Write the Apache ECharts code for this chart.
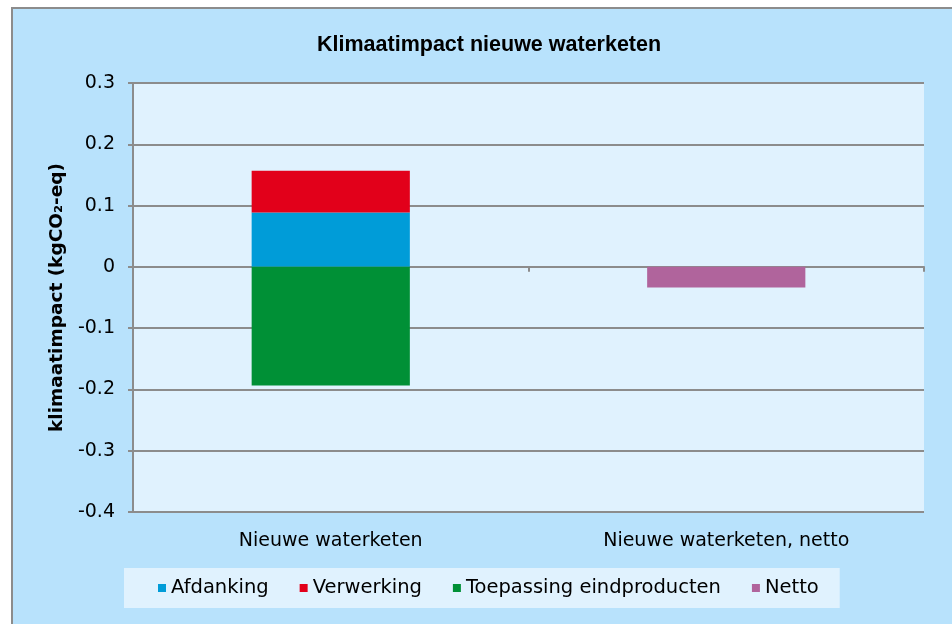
<!DOCTYPE html>
<html>
<head>
<meta charset="utf-8">
<script src="https://cdn.jsdelivr.net/npm/echarts@6/dist/echarts.min.js"></script>
<style>
  html, body { margin: 0; padding: 0; background: #ffffff; overflow: hidden; }
  #frame {
    position: absolute; left: 11px; top: 7px; width: 960px; height: 640px;
    background: #b8e2fc; border-left: 2px solid #8c8c8c; border-top: 2px solid #8c8c8c;
  }
  #main { position: absolute; left: 0; top: 0; width: 952px; height: 624px; }
</style>
</head>
<body>
<div id="frame"></div>
<div id="main"></div>
<script>
 // categorieën en waarden (kg CO2-eq)
 var categories = ['Nieuwe waterketen', 'Nieuwe waterketen, netto'];
 var afdanking = [0.0886, '-'];
 var verwerking = [0.0684, '-'];
 var toepassing = [-0.1935, '-'];
 var netto = ['-', -0.0337];
 var yTicks = { min: -0.4, max: 0.3, interval: 0.1 };

 var chart = echarts.init(document.getElementById('main'));

 var labelFont = 'DejaVu Sans';

 function barSerie(name, data, color) {
     return {
         name: name,
         type: 'bar',
         stack: 'totaal',
         barWidth: '40%',
         data: data,
         itemStyle: { color: color }
     };
 }

 var option = {
     backgroundColor: 'transparent',
     title: {
         text: 'Klimaatimpact nieuwe waterketen',
         left: 312,
         top: 29,
         textStyle: { fontFamily: 'Liberation Sans', fontWeight: 'bold', fontSize: 21.5, color: '#000' }
     },
     legend: {
         left: 124,
         top: 568,
         padding: [10, 21, 10, 34],
         itemGap: 31,
         itemWidth: 8,
         itemHeight: 8,
         icon: 'rect',
         backgroundColor: '#e0f2fe',
         textStyle: { fontFamily: labelFont, fontSize: 19.5, color: '#000' },
         data: ['Afdanking', 'Verwerking', 'Toepassing eindproducten', 'Netto']
     },
     grid: {
         left: 133, right: 28, top: 83, bottom: 112,
         show: true,
         backgroundColor: '#e0f2fe',
         borderWidth: 0
     },
     xAxis: [
         {
             type: 'category',
             data: categories,
             position: 'bottom',
             axisLine: { show: false, onZero: false },
             axisTick: { show: false },
             axisLabel: { margin: 20, fontFamily: labelFont, fontSize: 19, color: '#000' }
         },
         {
             // as op nul met streepjes tussen de categorieën
             type: 'category',
             data: categories,
             position: 'top',
             axisLine: { onZero: true, lineStyle: { color: '#8c8c8c', width: 2 } },
             axisTick: { show: true, inside: true, length: 5, lineStyle: { color: '#8c8c8c', width: 2 } },
             axisLabel: { show: false }
         }
     ],
     yAxis: {
         type: 'value',
         min: yTicks.min,
         max: yTicks.max,
         interval: yTicks.interval,
         name: 'klimaatimpact (kgCO₂-eq)',
         nameLocation: 'middle',
         nameGap: 63,
         nameTextStyle: { fontFamily: labelFont, fontWeight: 'bold', fontSize: 18.5, color: '#000' },
         axisLine: { show: true, lineStyle: { color: '#8c8c8c', width: 2 } },
         axisTick: { show: true, length: 5, lineStyle: { color: '#8c8c8c', width: 2 } },
         axisLabel: {
             margin: 18,
             fontFamily: labelFont, fontSize: 19, color: '#000',
             formatter: function (v) { return Math.abs(v) < 1e-9 ? '0' : v.toFixed(1); }
         },
         splitLine: { show: true, lineStyle: { color: '#8c8c8c', width: 2 } }
     },
     series: [
         barSerie('Afdanking', afdanking, '#009cd8'),
         barSerie('Verwerking', verwerking, '#e2001a'),
         barSerie('Toepassing eindproducten', toepassing, '#009036'),
         barSerie('Netto', netto, '#b0649c')
     ]
 };

 chart.setOption(option, true);
 window.addEventListener('resize', function () {
     chart.resize();
 });
</script>
</body>
</html>
